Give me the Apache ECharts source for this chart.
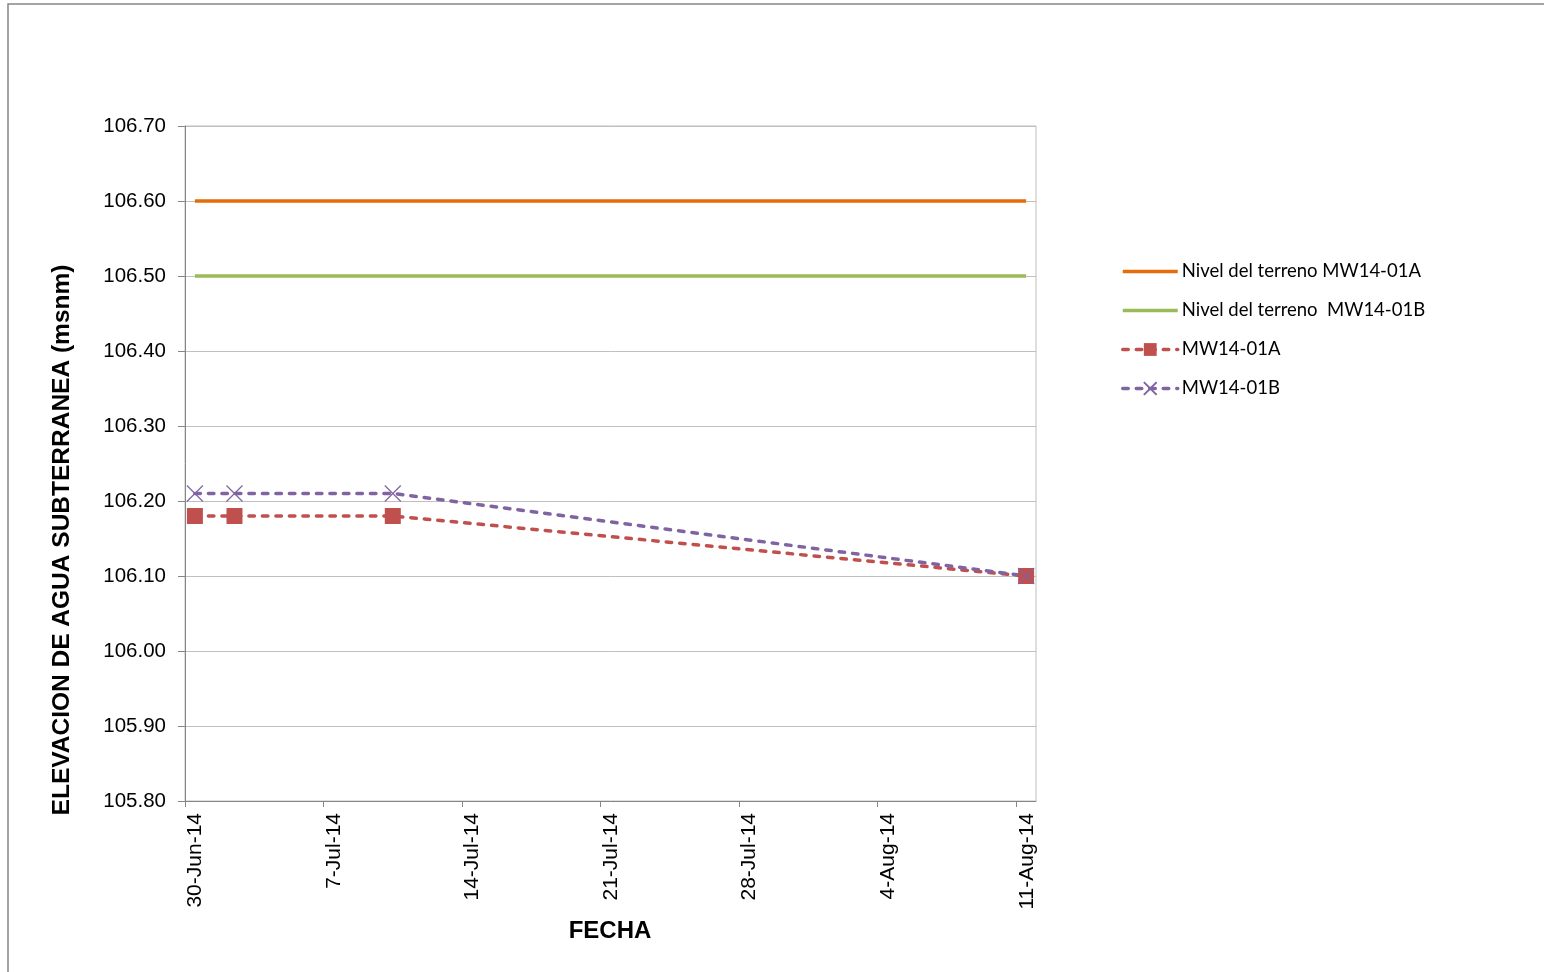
<!DOCTYPE html>
<html>
<head>
<meta charset="utf-8">
<script src="https://cdn.jsdelivr.net/npm/echarts@6/dist/echarts.min.js"></script>
<style>html,body{margin:0;padding:0;background:#fff}#c{width:1544px;height:972px}</style>
</head>
<body>
<div id="c"></div>
<script>
// ---- data ----
var baseDate = '2014-06-30';           // first day on the date axis
var axisDays = 43;                      // 30-Jun-14 .. 12-Aug-14
var sampleDates = ['2014-06-30', '2014-07-02', '2014-07-10', '2014-08-11'];
var mw01A = [106.18, 106.18, 106.18, 106.10];
var mw01B = [106.21, 106.21, 106.21, 106.10];
var groundA = [106.60, 106.60, 106.60, 106.60];
var groundB = [106.50, 106.50, 106.50, 106.50];
var seriesNames = ['Nivel del terreno MW14-01A', 'Nivel del terreno  MW14-01B', 'MW14-01A', 'MW14-01B'];
var xTickDays = [0, 7, 14, 21, 28, 35, 42];
var xTickLabels = ['30-Jun-14', '7-Jul-14', '14-Jul-14', '21-Jul-14', '28-Jul-14', '4-Aug-14', '11-Aug-14'];
var yTitle = 'ELEVACION DE AGUA SUBTERRANEA (msnm)';
var xTitle = 'FECHA';

// day index (date axis in Excel places points mid-day)
function dayPos(d) {
  return (Date.parse(d) - Date.parse(baseDate)) / 86400000 + 0.5;
}
function pairs(vals) {
  return sampleDates.map(function (d, i) { return [dayPos(d), vals[i]]; });
}

var chart = echarts.init(document.getElementById('c'));
var crossPath = 'path://M0,0L10,10M10,0L0,10';
var barIcon = 'path://M0,0H55V3.5H0Z';
var dash = { width: 3.5, type: [5.5, 8], cap: 'round' };

chart.setOption({
  animation: false,
  backgroundColor: '#ffffff',
  grid: { left: 185, top: 126, right: 508, bottom: 171, show: true, borderColor: '#bfbfbf', borderWidth: 1, backgroundColor: 'transparent' },
  xAxis: {
    type: 'value', min: 0, max: axisDays, interval: 7,
    axisLine: { show: true, lineStyle: { color: '#868686', width: 1 } },
    axisTick: { show: true, length: 6, lineStyle: { color: '#868686' }, customValues: xTickDays },
    splitLine: { show: false },
    axisLabel: {
      customValues: xTickDays,
      rotate: 90, margin: 12, fontFamily: 'Liberation Sans, Arial', fontSize: 21, color: '#000',
      verticalAlign: 'top',
      formatter: function (v) { var i = xTickDays.indexOf(Math.round(v)); return i >= 0 ? xTickLabels[i] : ''; }
    }
  },
  yAxis: {
    type: 'value', min: 105.8, max: 106.7, interval: 0.1,
    axisLine: { show: true, lineStyle: { color: '#868686', width: 1 } },
    axisTick: { show: true, length: 7, lineStyle: { color: '#868686' } },
    splitLine: { show: true, lineStyle: { color: '#bfbfbf', width: 1 } },
    axisLabel: { margin: 19, fontFamily: 'Liberation Sans, Arial', fontSize: 20.5, color: '#000',
      formatter: function (v) { return v.toFixed(2); } }
  },
  legend: {
    orient: 'vertical', left: 1116, top: 257,
    itemWidth: 55, itemHeight: 16, itemGap: 20,
    textStyle: { fontFamily: 'Lato, Noto Sans', fontSize: 18.5, color: '#000', padding: [0, 0, 0, -1] },
    data: [
      { name: seriesNames[0], icon: barIcon },
      { name: seriesNames[1], icon: barIcon },
      { name: seriesNames[2], lineStyle: { width: 3.5 } },
      { name: seriesNames[3], lineStyle: { width: 3.5 } }
    ]
  },
  series: [
    { name: seriesNames[0], type: 'line', data: pairs(groundA), showSymbol: false, symbol: 'none',
      lineStyle: { color: '#E46C0A', width: 3.5 }, itemStyle: { color: '#E46C0A' } },
    { name: seriesNames[1], type: 'line', data: pairs(groundB), showSymbol: false, symbol: 'none',
      lineStyle: { color: '#9BBB59', width: 3.5 }, itemStyle: { color: '#9BBB59' } },
    { name: seriesNames[2], type: 'line', data: pairs(mw01A), symbol: 'rect', symbolSize: 16,
      lineStyle: Object.assign({ color: '#C0504D' }, dash), itemStyle: { color: '#C0504D' } },
    { name: seriesNames[3], type: 'line', data: pairs(mw01B), symbol: crossPath, symbolSize: 16,
      lineStyle: Object.assign({ color: '#8064A2' }, dash),
      itemStyle: { color: 'none', borderColor: '#8064A2', borderWidth: 1.2 } }
  ],
  graphic: [
    { type: 'rect', shape: { x: 8, y: 4, width: 1600, height: 1000 }, style: { fill: 'none', stroke: '#868686', lineWidth: 1.5 }, silent: true },
    { type: 'text', x: 62, y: 540, rotation: Math.PI / 2,
      style: { text: yTitle, fontFamily: 'Liberation Sans, Arial', fontWeight: 'bold', fontSize: 24.5, fill: '#000', align: 'center', verticalAlign: 'middle' } },
    { type: 'text', x: 610, y: 931,
      style: { text: xTitle, fontFamily: 'Liberation Sans, Arial', fontWeight: 'bold', fontSize: 24, fill: '#000', align: 'center', verticalAlign: 'middle' } }
  ]
});
</script>
</body>
</html>
